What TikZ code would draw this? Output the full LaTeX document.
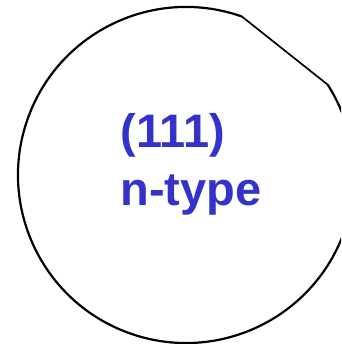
\documentclass[tikz,border=0pt]{standalone}
\usepackage{fontspec}
\setmainfont{Liberation Sans}
\usetikzlibrary{calc}
\usepackage{tkz-euclide}
\definecolor{wafblue}{RGB}{51,51,204}

\begin{document}
\begin{tikzpicture}
\useasboundingbox (0,0) rectangle (11.99,12.09);
\clip (0,0) rectangle (11.99,12.09);
\tkzSetUpLine[line width=2.2pt,color=black]

\tkzDefPoints{6.538/5.94/O}

% ends of the flat
\tkzDefPoint(11.518,9.113){A}
\tkzDefPoint(8.5,11.51){B}

\tkzDrawArc[line width=2.2pt,color=black](O,B)(A)
\tkzDrawSegments[line width=1.7pt,color=black](A,B)

\node[anchor=west,inner sep=0pt,align=left,text=wafblue,
  font=\bfseries\fontsize{47}{58}\selectfont] (lbl) at (4.2,6.3) {(111)\\n-type};

\end{tikzpicture}
\end{document}
